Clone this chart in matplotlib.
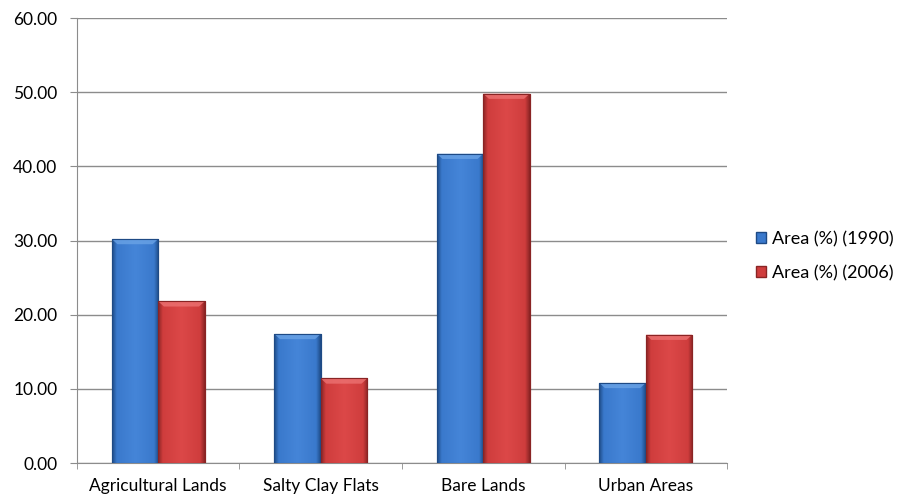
import numpy as np
import matplotlib
matplotlib.use('Agg')
import matplotlib.pyplot as plt
import matplotlib.ticker as ticker
from matplotlib.colors import LinearSegmentedColormap
from matplotlib.patches import Polygon

categories = ['Agricultural Lands', 'Salty Clay Flats', 'Bare Lands', 'Urban Areas']
area_1990 = [30.2, 17.4, 41.7, 10.8]
area_2006 = [21.8, 11.4, 49.8, 17.3]
series_names = ['Area (%) (1990)', 'Area (%) (2006)']

plt.rcParams['font.family'] = ['Lato', 'DejaVu Sans']

# edge, body, highlight, top bevel
blue = ['#1e4a85', '#3a79cc', '#4585d8', '#6aa3e6']
red = ['#8a2424', '#cf3d3d', '#dc4848', '#ec7272']

fig = plt.figure(figsize=(8.97, 4.99), dpi=100)
ax = fig.add_axes([0.0858, 0.0721, 0.7247, 0.8918])

x = np.arange(len(categories))
w = 1 / 3.5


def shaded_bars(xs, vals, cols):
    edge, body, hi, top = cols
    cmap = LinearSegmentedColormap.from_list(
        'bev', [(0, edge), (0.1, body), (0.5, hi), (0.9, body), (1, edge)])
    grad = np.linspace(0, 1, 128).reshape(1, -1)
    bars = ax.bar(xs, vals, w, color=body, edgecolor=edge, linewidth=0.8, zorder=3)
    bh = 0.7
    bx = 0.035
    for b in bars:
        x0, y0 = b.get_x(), b.get_y()
        x1, y1 = x0 + b.get_width(), y0 + b.get_height()
        im = ax.imshow(grad, cmap=cmap, aspect='auto', zorder=3.5,
                       extent=[x0, x1, y0, y1])
        im.set_clip_path(b)
        ax.add_patch(Polygon([(x0, y1), (x1, y1), (x1 - bx, y1 - bh), (x0 + bx, y1 - bh)],
                             closed=True, facecolor=top, edgecolor='none',
                             alpha=0.8, zorder=4))
        ax.add_patch(plt.Rectangle((x0, y0), x1 - x0, y1 - y0, fill=False,
                                   edgecolor=edge, linewidth=0.8, zorder=4.5))
    return bars


shaded_bars(x - w / 2, area_1990, blue)
shaded_bars(x + w / 2, area_2006, red)

ax.set_xlim(-0.5, 3.5)
ax.set_ylim(0, 60)
ax.yaxis.set_major_locator(ticker.MultipleLocator(10))
ax.yaxis.set_major_formatter(ticker.FormatStrFormatter('%.2f'))
ax.grid(axis='y', color='#8c8c8c', linewidth=1.0, zorder=0)

ax.set_xticks(x)
ax.set_xticklabels(categories, fontsize=12.5)
ax.set_xticks(np.arange(-0.5, 4.0, 1), minor=True)
ax.tick_params(axis='x', which='major', length=0, pad=11)
ax.tick_params(axis='x', which='minor', length=4, color='#8c8c8c')
ax.tick_params(axis='y', length=5, color='#8c8c8c', labelsize=12.5, pad=9)

for s in ['top', 'right']:
    ax.spines[s].set_visible(False)
for s in ['left', 'bottom']:
    ax.spines[s].set_color('#8c8c8c')

handles = [plt.Rectangle((0, 0), 1, 1, facecolor=blue[1], edgecolor=blue[0]),
           plt.Rectangle((0, 0), 1, 1, facecolor=red[1], edgecolor=red[0])]
fig.legend(handles, series_names, loc='center left', bbox_to_anchor=(0.843, 0.487),
           frameon=False, fontsize=13, handlelength=0.55, handleheight=0.55,
           handletextpad=0.35, labelspacing=1.0, borderaxespad=0, borderpad=0)

fig.savefig('out.png', dpi=100)
